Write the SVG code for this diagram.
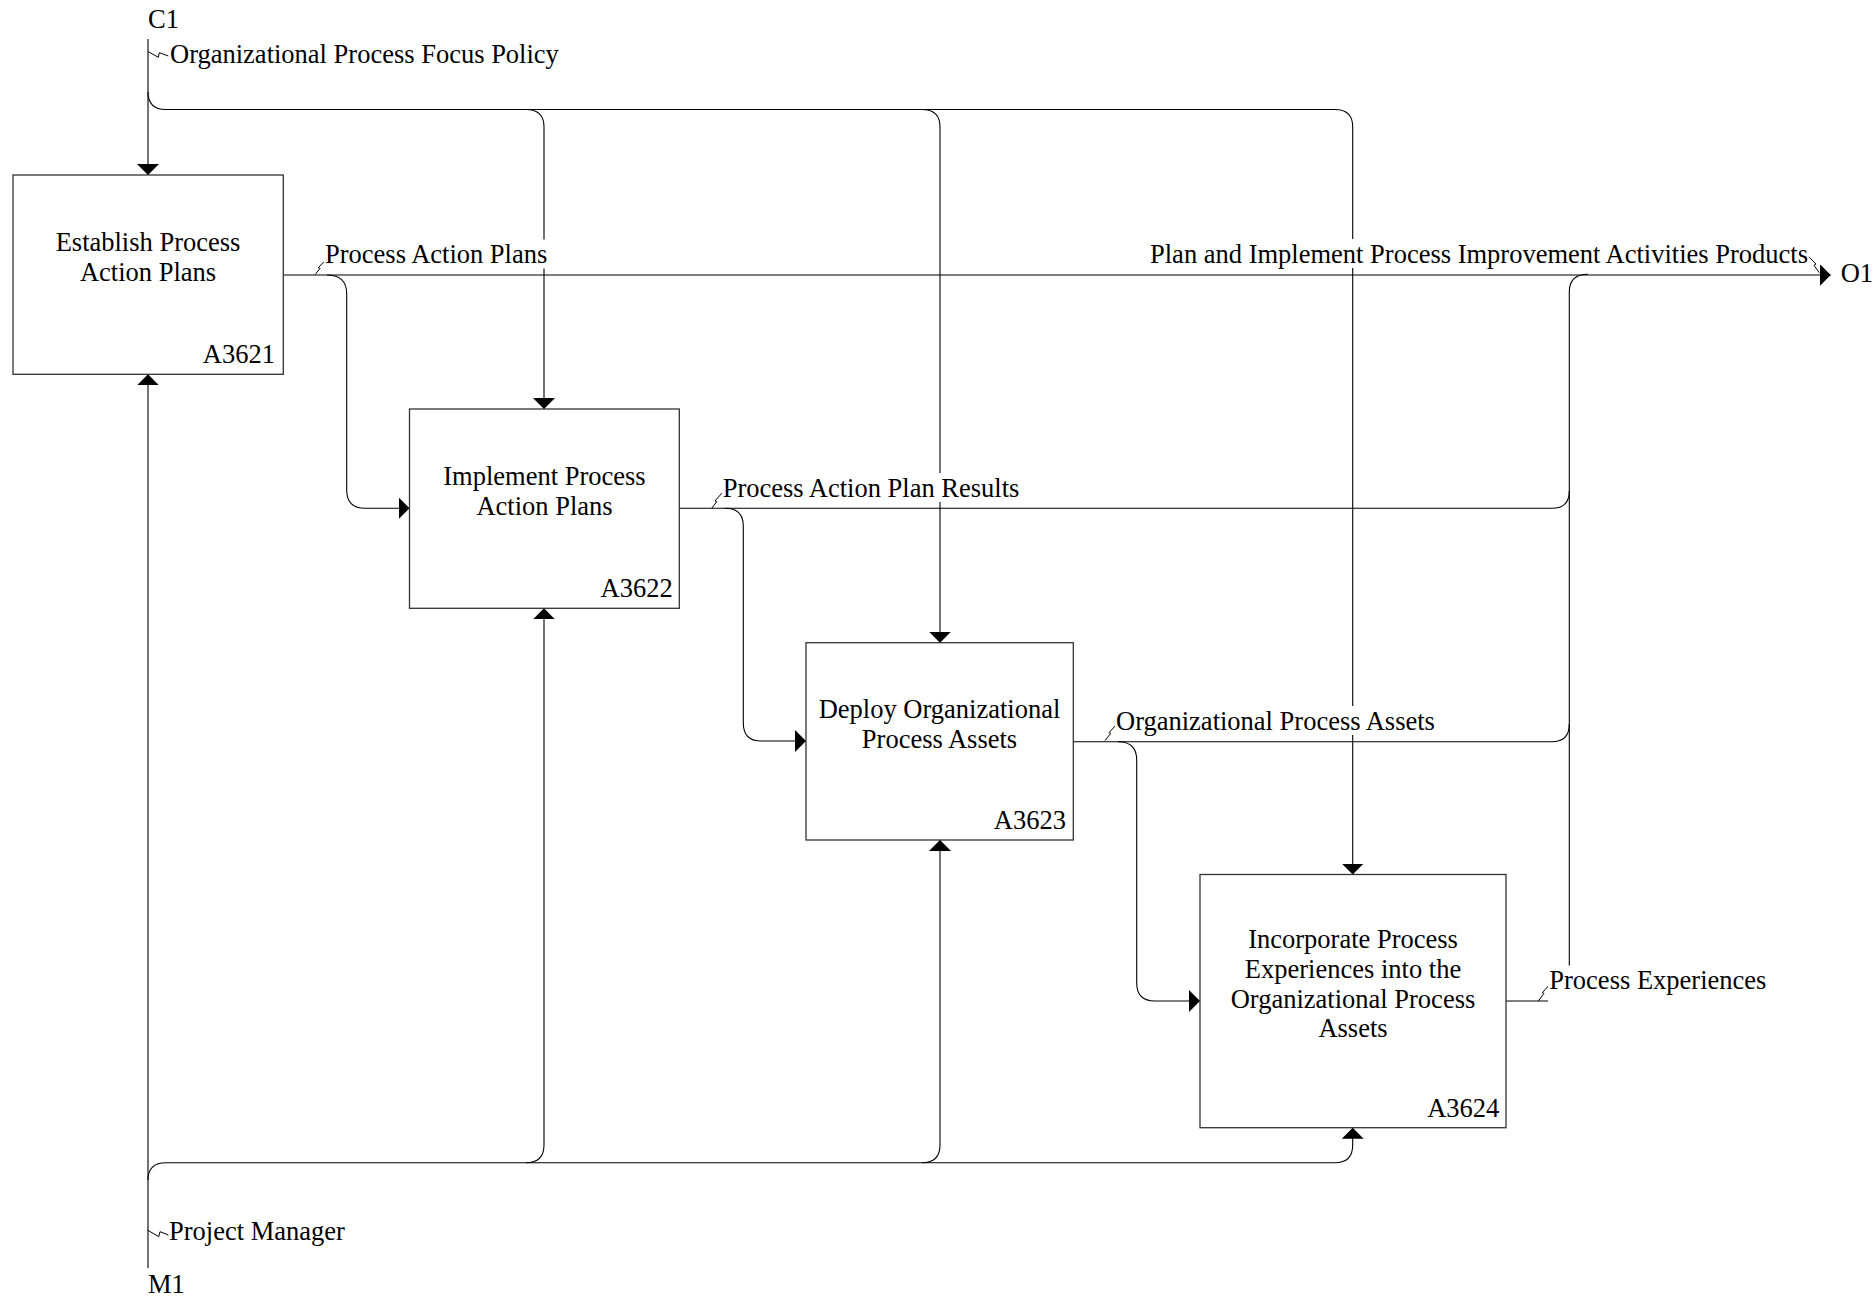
<svg xmlns="http://www.w3.org/2000/svg" width="1873" height="1297" viewBox="0 0 1873 1297">
<style>
text{font-family:"Liberation Serif","Times New Roman",serif;font-size:26.5px;fill:#000}
.c{fill:none;stroke:#000;stroke-width:1.1}
.sq{fill:none;stroke:#000;stroke-width:1}
.box{fill:#fff;stroke:#333;stroke-width:1.3}
.bg{fill:#fff;stroke:none}
.mid{text-anchor:middle}
.end{text-anchor:end}
</style>
<defs>
<marker id="ah" markerUnits="userSpaceOnUse" markerWidth="12" markerHeight="24" viewBox="0 0 12 24" refX="11" refY="11" orient="auto">
<path d="M0,0 L11,11 L0,22 Z" fill="#000"/>
</marker>
</defs>
<rect width="1873" height="1297" fill="#fff"/>
<g id="connectors">
<!-- C1 control -->
<path class="c" d="M148,39 V175" marker-end="url(#ah)"/>
<path class="c" d="M148,92 Q148,109.5 166,109.5 H1335 Q1352.7,109.5 1352.7,127 V874.5" marker-end="url(#ah)"/>
<path class="c" d="M526,109.5 Q544,109.5 544,127 V409" marker-end="url(#ah)"/>
<path class="c" d="M922,109.5 Q940,109.5 940,127 V642.7" marker-end="url(#ah)"/>
<!-- M1 mechanism -->
<path class="c" d="M148,1268 V374.3" marker-end="url(#ah)"/>
<path class="c" d="M148,1180 Q148,1162.7 166,1162.7 H1335 Q1352.7,1162.7 1352.7,1145 V1127.7" marker-end="url(#ah)"/>
<path class="c" d="M526,1162.7 Q544,1162.7 544,1145 V608.3" marker-end="url(#ah)"/>
<path class="c" d="M922,1162.7 Q940,1162.7 940,1145 V840" marker-end="url(#ah)"/>
<!-- A3621 output -->
<path class="c" d="M283.3,275 H1830.7" marker-end="url(#ah)"/>
<path class="c" d="M327,275 Q346.7,275 346.7,294 V490 Q346.7,508.3 365,508.3 H409.5" marker-end="url(#ah)"/>
<!-- A3622 output -->
<path class="c" d="M679.3,508.3 H1552 Q1569.3,508.3 1569.3,491"/>
<path class="c" d="M725,508.3 Q743.3,508.3 743.3,526 V723 Q743.3,741 761,741 H806" marker-end="url(#ah)"/>
<!-- A3623 output -->
<path class="c" d="M1073.3,741.7 H1552 Q1569.3,741.7 1569.3,724"/>
<path class="c" d="M1118,741.7 Q1136.7,741.7 1136.7,760 V983 Q1136.7,1001 1155,1001 H1200" marker-end="url(#ah)"/>
<!-- A3624 output -->
<path class="c" d="M1506,1001 H1551 Q1569.3,1001 1569.3,983 V292 Q1569.3,274.3 1588,274.3"/>
<!-- squiggles -->
<polyline class="sq" points="148.3,51.7 158.3,57.3 159.3,52.7 168.3,56"/>
<polyline class="sq" points="315.3,274.3 320,268.3 318.3,267.7 324,261.7"/>
<polyline class="sq" points="711.7,508.3 716.7,501.7 715,501 721.7,493.3"/>
<polyline class="sq" points="1105,740.7 1110.7,733.3 1109,732.7 1116,725"/>
<polyline class="sq" points="1538.3,1001 1544,993.3 1542.3,992.7 1549.3,985"/>
<polyline class="sq" points="1809.3,257.3 1816,264 1814,265.3 1819.3,272.7"/>
<polyline class="sq" points="147.3,1230 158.8,1236.7 160,1231.7 168.4,1235"/>
<!-- label backgrounds -->
<rect class="bg" x="324" y="239.5" width="227" height="29"/>
<rect class="bg" x="1148" y="239" width="661" height="29"/>
<rect class="bg" x="722" y="473" width="300" height="29"/>
<rect class="bg" x="1115" y="706" width="323" height="29"/>
<rect class="bg" x="1548" y="965.5" width="220" height="39"/>
<!-- labels -->
<text x="148" y="28">C1</text>
<text x="170" y="62.7">Organizational Process Focus Policy</text>
<text x="325" y="263">Process Action Plans</text>
<text class="end" x="1808" y="262.7">Plan and Implement Process Improvement Activities Products</text>
<text x="1840.7" y="281.7">O1</text>
<text x="722.7" y="496.7">Process Action Plan Results</text>
<text x="1116" y="730">Organizational Process Assets</text>
<text x="1549.3" y="989">Process Experiences</text>
<text x="169" y="1240">Project Manager</text>
<text x="148" y="1292.7">M1</text>
</g>
<g id="A3621">
<rect class="box" x="13" y="175" width="270.3" height="199.3"/>
<text class="mid" x="148" y="250.7">Establish Process</text>
<text class="mid" x="148" y="280.7">Action Plans</text>
<text class="end" x="275" y="362.7">A3621</text>
</g>
<g id="A3622">
<rect class="box" x="409.5" y="409" width="269.8" height="199.3"/>
<text class="mid" x="544.5" y="485">Implement Process</text>
<text class="mid" x="544.5" y="514.5">Action Plans</text>
<text class="end" x="672.7" y="596.7">A3622</text>
</g>
<g id="A3623">
<rect class="box" x="806" y="642.7" width="267.3" height="197.3"/>
<text class="mid" x="939.5" y="718.3">Deploy Organizational</text>
<text class="mid" x="939.5" y="747.7">Process Assets</text>
<text class="end" x="1066" y="829">A3623</text>
</g>
<g id="A3624">
<rect class="box" x="1200" y="874.5" width="306" height="253.2"/>
<text class="mid" x="1353" y="948.3">Incorporate Process</text>
<text class="mid" x="1353" y="977.7">Experiences into the</text>
<text class="mid" x="1353" y="1007.5">Organizational Process</text>
<text class="mid" x="1353" y="1037.3">Assets</text>
<text class="end" x="1499.3" y="1116.7">A3624</text>
</g>
</svg>
